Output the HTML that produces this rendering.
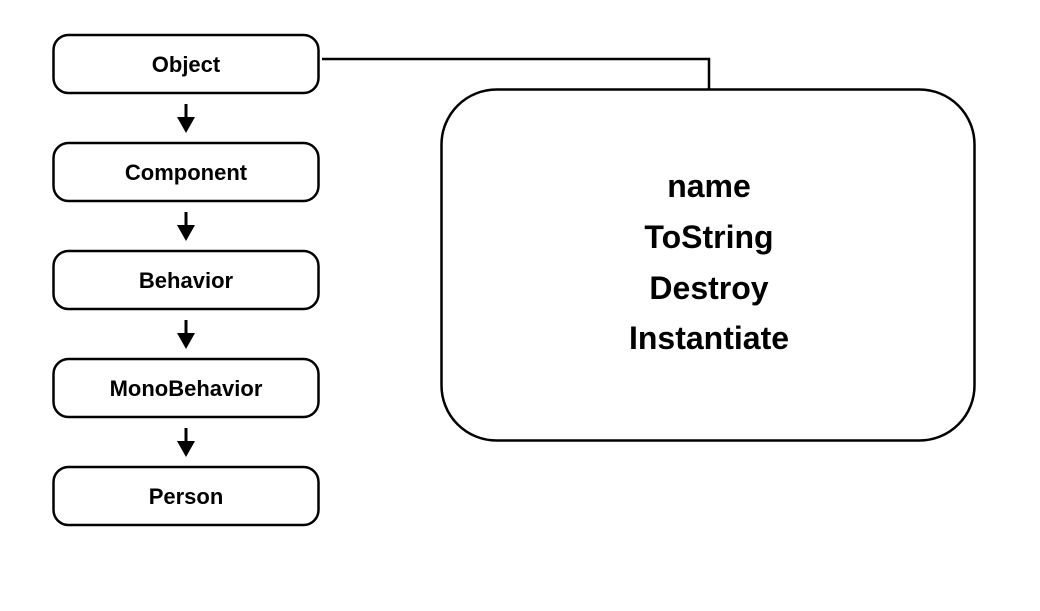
<!DOCTYPE html>
<html><head><style>
html,body{margin:0;padding:0;background:#fff;}
svg text{font-family:"Liberation Sans",Arial,sans-serif;}
</style></head><body>
<svg width="1040" height="606" viewBox="0 0 1040 606" xmlns="http://www.w3.org/2000/svg">
<g fill="#fff" stroke="#000" stroke-width="2.5">
<rect x="53.5" y="35" width="265" height="58" rx="15"/>
<rect x="53.5" y="143" width="265" height="58" rx="15"/>
<rect x="53.5" y="251" width="265" height="58" rx="15"/>
<rect x="53.5" y="359" width="265" height="58" rx="15"/>
<rect x="53.5" y="467" width="265" height="58" rx="15"/>
<rect x="441.5" y="89.5" width="533" height="351" rx="55"/>
</g>
<path d="M322 59 H709 V89" fill="none" stroke="#000" stroke-width="2.5"/>
<g stroke="#000" stroke-width="3">
<line x1="186" y1="104" x2="186" y2="120"/>
<line x1="186" y1="212" x2="186" y2="228"/>
<line x1="186" y1="320" x2="186" y2="336"/>
<line x1="186" y1="428" x2="186" y2="444"/>
</g>
<g fill="#000">
<polygon points="177,117 195,117 186,133"/>
<polygon points="177,225 195,225 186,241"/>
<polygon points="177,333 195,333 186,349"/>
<polygon points="177,441 195,441 186,457"/>
</g>
<g font-size="22" font-weight="600" text-anchor="middle" fill="#000">
<text x="186" y="72">Object</text>
<text x="186" y="180">Component</text>
<text x="186" y="288">Behavior</text>
<text x="186" y="396">MonoBehavior</text>
<text x="186" y="504">Person</text>
</g>
<g font-size="32" font-weight="600" text-anchor="middle" fill="#000">
<text x="709" y="197">name</text>
<text x="709" y="248">ToString</text>
<text x="709" y="299">Destroy</text>
<text x="709" y="349">Instantiate</text>
</g>
</svg>
</body></html>
